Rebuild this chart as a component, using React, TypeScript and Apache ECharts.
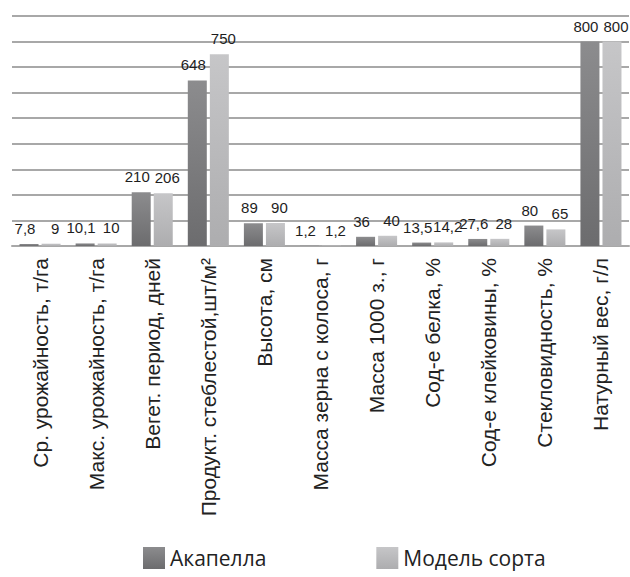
import React, { useEffect, useRef } from "react";
import * as echarts from "echarts";

const categories = [
  "Ср. урожайность, т/га",
  "Макс. урожайность, т/га",
  "Вегет. период, дней",
  "Продукт. стеблестой,шт/м²",
  "Высота, см",
  "Масса зерна с колоса, г",
  "Масса 1000 з., г",
  "Сод-е белка, %",
  "Сод-е клейковины, %",
  "Стекловидность, %",
  "Натурный вес, г/л",
];
const akapella = [7.8, 10.1, 210, 648, 89, 1.2, 36, 13.5, 27.6, 80, 800];
const model = [9, 10, 206, 750, 90, 1.2, 40, 14.2, 28, 65, 800];
const seriesNames = ["Акапелла", "Модель сорта"];

const fmt = (p: any) => String(p.value).replace(".", ",");

export default function App() {
  const ref = useRef<HTMLDivElement>(null);
  useEffect(() => {
    if (!ref.current) return;
    const chart = echarts.init(ref.current, undefined, { renderer: "svg" });
    const darkGrad = new echarts.graphic.LinearGradient(0, 0, 0, 1, [
      { offset: 0, color: "#8c8c8e" },
      { offset: 1, color: "#6c6c6e" },
    ]);
    const lightGrad = new echarts.graphic.LinearGradient(0, 0, 0, 1, [
      { offset: 0, color: "#c6c6c8" },
      { offset: 1, color: "#adadaf" },
    ]);
    const labelStyle = (dx: number) => ({
      show: true,
      position: "top" as const,
      distance: 8,
      offset: [dx, 0],
      formatter: fmt,
      fontFamily: "'Liberation Sans', Arial, sans-serif",
      fontSize: 15,
      color: "#1e1e1e",
    });
    chart.setOption({
      animation: false,
      grid: { left: 12, right: 1, top: 16, bottom: 331, containLabel: false },
      legend: {
        left: 138,
        top: 542,
        itemWidth: 22,
        itemHeight: 22,
        itemGap: 110,
        icon: "rect",
        textStyle: { fontFamily: "Open Sans", fontSize: 21, color: "#222" },
        data: seriesNames,
      },
      xAxis: {
        type: "category",
        data: categories,
        axisTick: { show: false },
        axisLine: { lineStyle: { color: "#a8a8a8", width: 2 } },
        axisLabel: {
          interval: 0,
          rotate: 90,
          margin: 12,
          fontFamily: "Liberation Sans",
          fontSize: 21,
          color: "#222",
        },
      },
      yAxis: {
        type: "value",
        min: 0,
        max: 900,
        interval: 100,
        axisLabel: { show: false },
        axisLine: { show: false },
        axisTick: { show: false },
        splitLine: { lineStyle: { color: "#a8a8a8", width: 2 } },
      },
      series: [
        {
          name: seriesNames[0],
          type: "bar",
          data: akapella,
          barWidth: 19,
          barGap: "16%",
          itemStyle: { color: darkGrad },
          label: labelStyle(-4),
        },
        {
          name: seriesNames[1],
          type: "bar",
          data: model,
          barWidth: 19,
          barGap: "16%",
          itemStyle: { color: lightGrad },
          label: labelStyle(4),
        },
      ],
    });
    return () => chart.dispose();
  }, []);
  return (
    <div
      ref={ref}
      style={{ position: "absolute", left: 0, top: 0, width: 630, height: 577 }}
    />
  );
}
